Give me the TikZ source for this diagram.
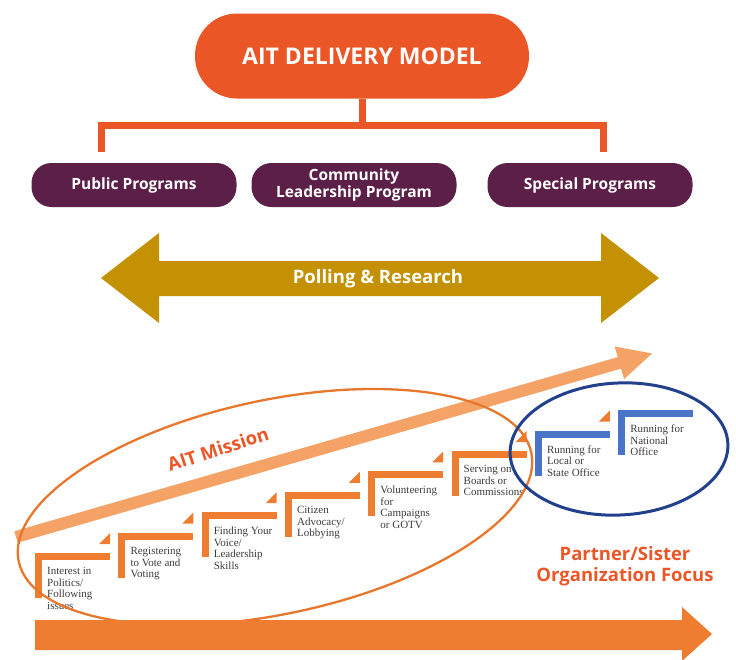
\documentclass[tikz,border=0pt]{standalone}
\usepackage{fontspec}
\usetikzlibrary{shapes.geometric}
\newfontfamily\osans{Open Sans}
\newfontfamily\lserif{Liberation Serif}
\definecolor{aitred}{HTML}{EB5627}
\definecolor{aitpurple}{HTML}{5C1F48}
\definecolor{aitgold}{HTML}{C49102}
\definecolor{steporange}{HTML}{EE7D31}
\definecolor{stepblue}{HTML}{4A74C8}
\definecolor{navyline}{HTML}{22408C}
\definecolor{lightorange}{HTML}{F4A266}
\definecolor{ellorange}{HTML}{E8772E}
\definecolor{steptext}{HTML}{3C3C3C}
\newcommand\steptri{\fill[steporange] (64,-9) -- (75,-20) -- (75,-9) -- cycle;}
\newcommand\aitstep[5]{%
  \begin{scope}[shift={(35+83.3*#2,553-20.4*#2)}]
    \fill[#3] (0,0) rectangle (75,7);
    \fill[#3] (0,0) rectangle (7,45);
    #4
    \node[steplabel] (#1) at (12,14.5) {#5};
  \end{scope}}
\begin{document}
\begin{tikzpicture}[x=1pt,y=-1pt,
  toppill/.style={fill=aitred, text=white, minimum width=334pt, minimum height=85pt,
    rounded corners=42pt, inner sep=0pt, font=\osans\bfseries\fontsize{23}{26}\selectfont},
  subpill/.style={fill=aitpurple, text=white, minimum width=205pt, minimum height=44pt,
    rounded corners=20pt, inner sep=0pt, align=center,
    font=\osans\bfseries\fontsize{15.5}{17}\selectfont},
  conn/.style={draw=aitred, line width=7pt, line join=miter},
  steplabel/.style={anchor=north west, inner sep=0pt, align=left, text=steptext,
    font=\lserif\fontsize{11}{11.5}\selectfont},
  bigtext/.style={text=aitred, font=\osans\bfseries\fontsize{18.5}{21}\selectfont, align=center}]
\useasboundingbox (0,0) rectangle (736,659);

% top of the model
\node[toppill] (top) at (362,56) {AIT DELIVERY MODEL};
\node[subpill] (public) at (134,185) {Public Programs};
\node[subpill] (community) at (354,185) {Community\\Leadership Program};
\node[subpill] (special) at (590,185) {Special Programs};
\coordinate (jm) at (362,125);
\coordinate (el) at (101.5,152);
\coordinate (er) at (603.5,152);
\draw[conn] (top.south) -- (jm);
\draw[conn] (el) |- (jm) -| (er);

% polling arrow
\fill[aitgold] (101,278) -- (159,233) -- (159,261) -- (601,261) -- (601,233) -- (659,278)
  -- (601,323) -- (601,296) -- (159,296) -- (159,323) -- cycle;
\node[text=white, font=\osans\bfseries\fontsize{18.5}{20}\selectfont] (polling) at (378,279) {Polling \& Research};

% diagonal arrow
\begin{scope}[shift={(16,537)}, rotate=16.1]
  \fill[lightorange] (0,-6) -- (628,-6) -- (628,-17) -- (662,0) -- (628,17) -- (628,6) -- (0,6) -- cycle;
\end{scope}

% steps
\aitstep{s1}{0}{steporange}{\steptri}{Interest in\\Politics/\\Following\\issues}
\aitstep{s2}{1}{steporange}{\steptri}{Registering\\to Vote and\\Voting}
\aitstep{s3}{2}{steporange}{\steptri}{Finding Your\\Voice/\\Leadership\\Skills}
\aitstep{s4}{3}{steporange}{\steptri}{Citizen\\Advocacy/\\Lobbying}
\aitstep{s5}{4}{steporange}{\steptri}{Volunteering\\for\\Campaigns\\or GOTV}
\aitstep{s6}{5}{steporange}{\steptri}{Serving on\\Boards or\\Commissions}
\aitstep{s7}{6}{stepblue}{\steptri}{Running for\\Local or\\State Office}
\aitstep{s8}{7}{stepblue}{}{Running for\\National\\Office}

% ellipses
\node[ellipse, draw=ellorange, line width=2.3pt, minimum width=524pt, minimum height=214pt,
  inner sep=0pt, rotate=12] (mission) at (275,507) {};
\node[ellipse, draw=navyline, line width=3pt, minimum width=218pt, minimum height=132pt,
  inner sep=0pt, rotate=3] (partnerzone) at (619,449) {};

\node[bigtext, rotate=18] (missionlabel) at (218,449) {AIT Mission};
\node[bigtext] (partner) at (625,566.5) {Partner/Sister\\Organization Focus};

% bottom arrow
\fill[steporange] (35,620) -- (682,620) -- (682,607) -- (712,634) -- (682,661) -- (682,650) -- (35,650) -- cycle;
\end{tikzpicture}
\end{document}
